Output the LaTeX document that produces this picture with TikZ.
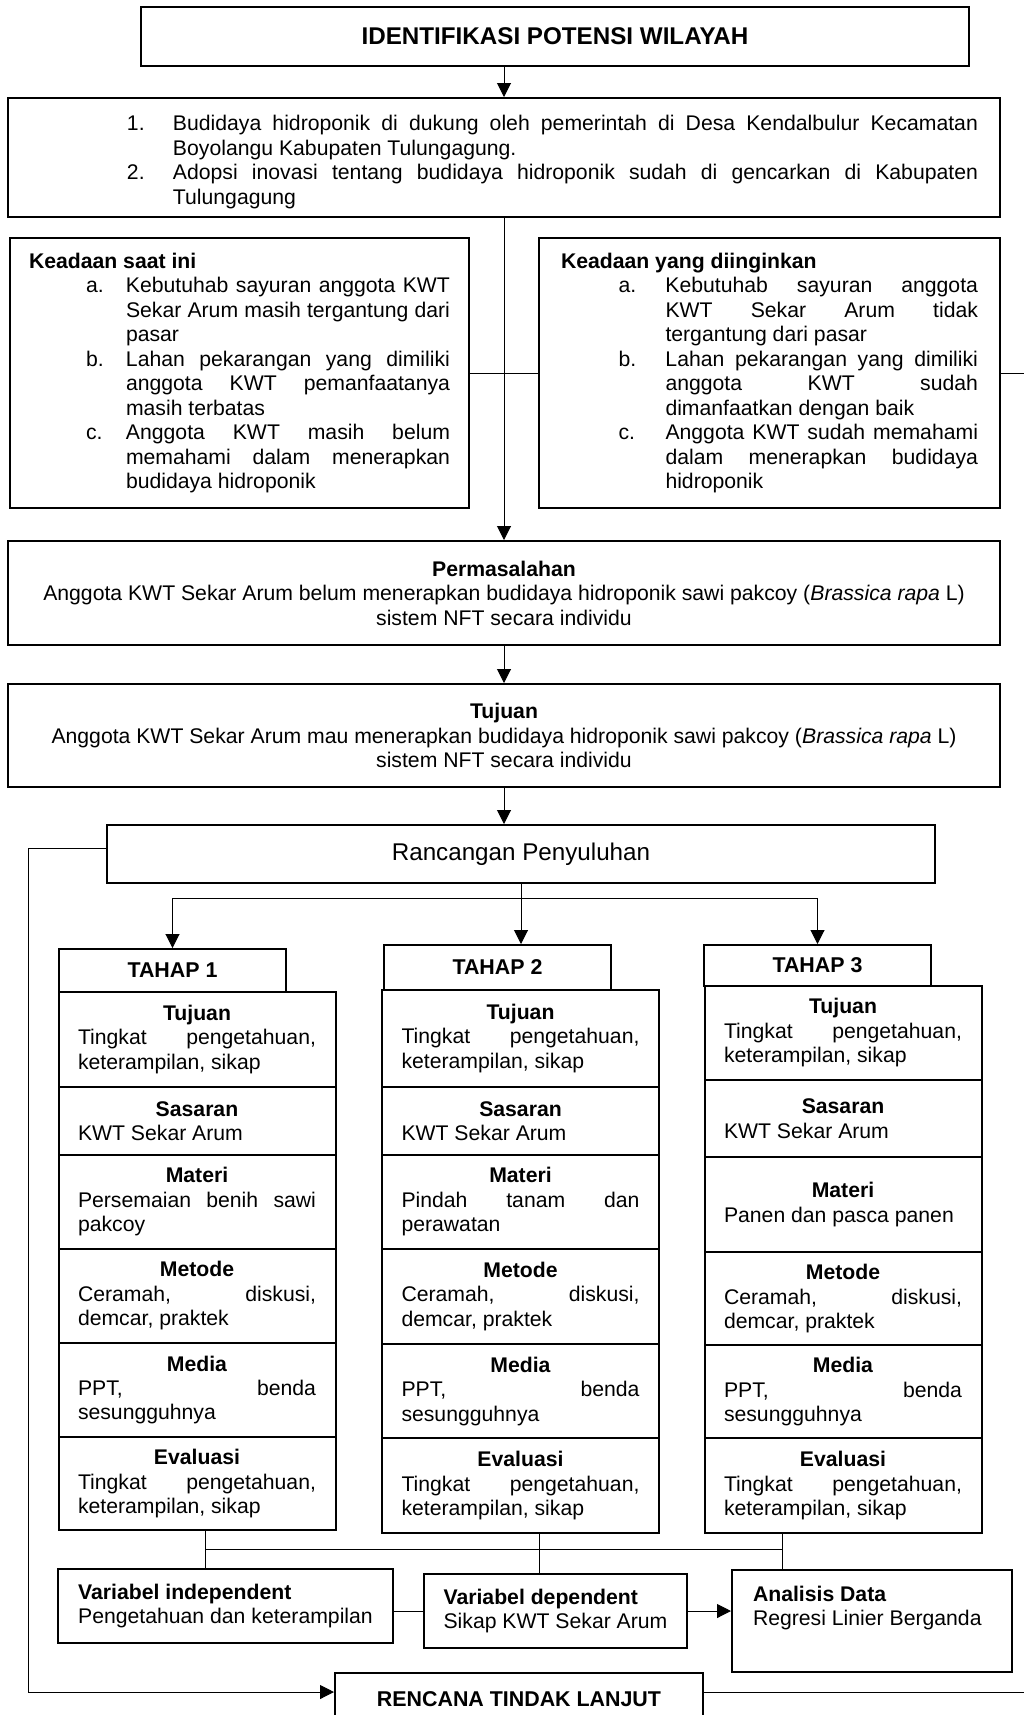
\documentclass[tikz,border=0pt]{standalone}
\usepackage{fontspec}
\setmainfont{Liberation Sans}
\usetikzlibrary{arrows.meta}
\setlength{\parindent}{0pt}

\newcommand{\butir}[2]{\par\noindent\llap{\makebox[#1][l]{#2}}}
\newcommand{\blokjudul}[1]{{\centering\textbf{#1}\par}}

\begin{document}
\begin{tikzpicture}[x=0.5pt,y=-0.5pt,
    font=\fontsize{10.6}{12.25}\selectfont,
    kotak/.style={draw,line width=1pt,inner sep=0pt},
    blok/.style={kotak,align=justify,text width=119pt,minimum width=138.5pt},
    tahap/.style={kotak,font=\fontsize{10.7}{12.25}\selectfont\bfseries,minimum width=113.5pt},
    garis/.style={line width=0.5pt},
    panah/.style={garis,-{Triangle[width=7pt,length=7pt]}}]

    % Langkah 0: ukuran gambar
    \useasboundingbox (0,0) rectangle (1024,1715);
    \clip (0,0) rectangle (1024,1715);

    % Langkah 1: judul dan potensi wilayah
    \node[kotak,minimum width=414pt,minimum height=29.5pt,
          font=\fontsize{12.1}{14}\selectfont\bfseries] (judul) at (555,36.5) {IDENTIFIKASI POTENSI WILAYAH};
    \node[kotak,align=justify,text width=474pt,minimum width=496pt,minimum height=59.5pt] (potensi) at (504,157.5)
        {\leftskip=71.5pt
         \butir{23pt}{1.}Budidaya hidroponik di dukung oleh pemerintah di Desa Kendalbulur Kecamatan \linebreak Boyolangu Kabupaten Tulungagung.
         \butir{23pt}{2.}Adopsi inovasi tentang budidaya hidroponik sudah di gencarkan di Kabupaten \linebreak Tulungagung\par};

    % Langkah 2: keadaan saat ini dan yang diinginkan
    \node[kotak,align=justify,text width=210.5pt,minimum width=229.5pt,minimum height=135pt] (saat) at (239.5,373)
        {\textbf{Keadaan saat ini}\par
         \leftskip=48.5pt
         \butir{20pt}{a.}Kebutuhab sayuran anggota KWT \linebreak Sekar Arum masih tergantung dari \linebreak pasar
         \butir{20pt}{b.}Lahan pekarangan yang dimiliki \linebreak anggota KWT pemanfaatanya \linebreak masih terbatas
         \butir{20pt}{c.}Anggota KWT masih belum \linebreak memahami dalam menerapkan \linebreak budidaya hidroponik\par};
    \node[kotak,align=justify,text width=208.5pt,minimum width=230.5pt,minimum height=135pt] (ingin) at (769.5,373)
        {\textbf{Keadaan yang diinginkan}\par
         \leftskip=52.25pt
         \butir{23.5pt}{a.}Kebutuhab sayuran anggota \linebreak KWT Sekar Arum tidak \linebreak tergantung dari pasar
         \butir{23.5pt}{b.}Lahan pekarangan yang dimiliki \linebreak anggota KWT sudah \linebreak dimanfaatkan dengan baik
         \butir{23.5pt}{c.}Anggota KWT sudah memahami \linebreak dalam menerapkan budidaya \linebreak hidroponik\par};

    % Langkah 3: permasalahan, tujuan dan rancangan
    \node[kotak,align=center,minimum width=496pt,minimum height=52pt] (masalah) at (504,593)
        {\textbf{Permasalahan}\\Anggota KWT Sekar Arum belum menerapkan budidaya hidroponik sawi pakcoy (\textit{Brassica rapa} L)\\sistem NFT secara individu};
    \node[kotak,align=center,minimum width=496pt,minimum height=51.5pt] (tujuan) at (504,735.5)
        {\textbf{Tujuan}\\Anggota KWT Sekar Arum mau menerapkan budidaya hidroponik sawi pakcoy (\textit{Brassica rapa} L)\\sistem NFT secara individu};
    \node[kotak,minimum width=414pt,minimum height=29pt,
          font=\fontsize{12.1}{15}\selectfont] (rancangan) at (521,854) {Rancangan Penyuluhan};

    % Langkah 4: tahap penyuluhan
    \node[tahap,minimum height=21.5pt] (tahap1) at (172.5,970.5) {TAHAP 1};
    \node[tahap,minimum height=22.5pt] (tahap2) at (497.5,967.5) {TAHAP 2};
    \node[tahap,minimum height=20.5pt] (tahap3) at (817.5,965.5) {TAHAP 3};

    \node[blok,minimum height=47.5pt] (tuj1) at (197,1039.5) {\blokjudul{Tujuan}Tingkat pengetahuan, \linebreak keterampilan, sikap};
    \node[blok,minimum height=34pt]   (sas1) at (197,1121)   {\blokjudul{Sasaran}KWT Sekar Arum};
    \node[blok,minimum height=47pt]   (mat1) at (197,1202)   {\blokjudul{Materi}Persemaian benih sawi \linebreak pakcoy};
    \node[blok,minimum height=47pt]   (met1) at (197,1296)   {\blokjudul{Metode}Ceramah, diskusi, \linebreak demcar, praktek};
    \node[blok,minimum height=47pt]   (med1) at (197,1390)   {\blokjudul{Media}PPT, benda \linebreak sesungguhnya};
    \node[blok,minimum height=46.5pt] (eva1) at (197,1483.5) {\blokjudul{Evaluasi}Tingkat pengetahuan, \linebreak keterampilan, sikap};

    \node[blok,minimum height=48.5pt] (tuj2) at (520.5,1038.5) {\blokjudul{Tujuan}Tingkat pengetahuan, \linebreak keterampilan, sikap};
    \node[blok,minimum height=34pt]   (sas2) at (520.5,1121)   {\blokjudul{Sasaran}KWT Sekar Arum};
    \node[blok,minimum height=47pt]   (mat2) at (520.5,1202)   {\blokjudul{Materi}Pindah tanam dan \linebreak perawatan};
    \node[blok,minimum height=47.5pt] (met2) at (520.5,1296.5) {\blokjudul{Metode}Ceramah, diskusi, \linebreak demcar, praktek};
    \node[blok,minimum height=47pt]   (med2) at (520.5,1391)   {\blokjudul{Media}PPT, benda \linebreak sesungguhnya};
    \node[blok,minimum height=47.5pt] (eva2) at (520.5,1485.5) {\blokjudul{Evaluasi}Tingkat pengetahuan, \linebreak keterampilan, sikap};

    \node[blok,minimum height=47pt]   (tuj3) at (843,1033)   {\blokjudul{Tujuan}Tingkat pengetahuan, \linebreak keterampilan, sikap};
    \node[blok,minimum height=38.5pt] (sas3) at (843,1118.5) {\blokjudul{Sasaran}KWT Sekar Arum};
    \node[blok,minimum height=47.5pt] (mat3) at (843,1204.5) {\blokjudul{Materi}Panen dan pasca panen};
    \node[blok,minimum height=46.5pt] (met3) at (843,1298.5) {\blokjudul{Metode}Ceramah, diskusi, \linebreak demcar, praktek};
    \node[blok,minimum height=46.5pt] (med3) at (843,1391.5) {\blokjudul{Media}PPT, benda \linebreak sesungguhnya};
    \node[blok,minimum height=47.5pt] (eva3) at (843,1485.5) {\blokjudul{Evaluasi}Tingkat pengetahuan, \linebreak keterampilan, sikap};

    % Langkah 5: variabel, analisis dan rencana tindak lanjut
    \node[kotak,align=left,minimum width=167.5pt,minimum height=37pt] (bebas) at (225.5,1606)
        {\textbf{Variabel independent}\\Pengetahuan dan keterampilan};
    \node[kotak,align=left,minimum width=131.5pt,minimum height=37pt] (terikat) at (555.5,1611)
        {\textbf{Variabel dependent}\\Sikap KWT Sekar Arum};
    \node[kotak,minimum width=140pt,minimum height=51pt] (analisis) at (872,1621)
        {\parbox[c][51pt][t]{119pt}{\vspace{8pt}\textbf{Analisis Data}\\Regresi Linier Berganda}};
    \node[kotak,minimum width=184pt,minimum height=26pt,
          font=\fontsize{10.7}{14}\selectfont\bfseries] (rencana) at (519,1699) {RENCANA TINDAK LANJUT};

    % Langkah 6: garis penghubung
    \coordinate (cabang) at (0,898);
    \coordinate (turun1) at (205,1549);
    \coordinate (turun2) at (539,1549);
    \coordinate (turun3) at (782,1549);
    \coordinate (balik) at (28,0);
    \coordinate (kanan1) at (1024,373);
    \coordinate (kanan2) at (1024,1692);

    \draw[panah] (judul.south -| potensi.north) -- (potensi.north);
    \draw[garis] (saat.east) -- (ingin.west);
    \draw[garis] (ingin.east) -- (kanan1);
    \draw[panah] (potensi.south) -- (masalah.north);
    \draw[panah] (masalah.south) -- (tujuan.north);
    \draw[panah] (tujuan.south) -- (tujuan.south |- rancangan.north);

    \draw[garis] (tahap1.north |- cabang) -- (tahap3.north |- cabang);
    \draw[panah] (tahap1.north |- cabang) -- (tahap1.north);
    \draw[panah] (rancangan.south) -- (rancangan.south |- tahap2.north);
    \draw[panah] (tahap3.north |- cabang) -- (tahap3.north);

    \draw[garis] (eva1.south -| turun1) -- (bebas.north -| turun1);
    \draw[garis] (eva2.south -| turun2) -- (terikat.north -| turun2);
    \draw[garis] (eva3.south -| turun3) -- (analisis.north -| turun3);
    \draw[garis] (turun1) -- (turun3);
    \draw[garis] (bebas.east |- terikat.west) -- (terikat.west);
    \draw[panah] (terikat.east) -- (analisis.west |- terikat.east);

    \draw[panah] ([yshift=3pt]rancangan.west) -| (balik |- kanan2) -- ([yshift=3.5pt]rencana.west);
    \draw[garis] ([yshift=3.5pt]rencana.east) -- (kanan2);
\end{tikzpicture}
\end{document}
